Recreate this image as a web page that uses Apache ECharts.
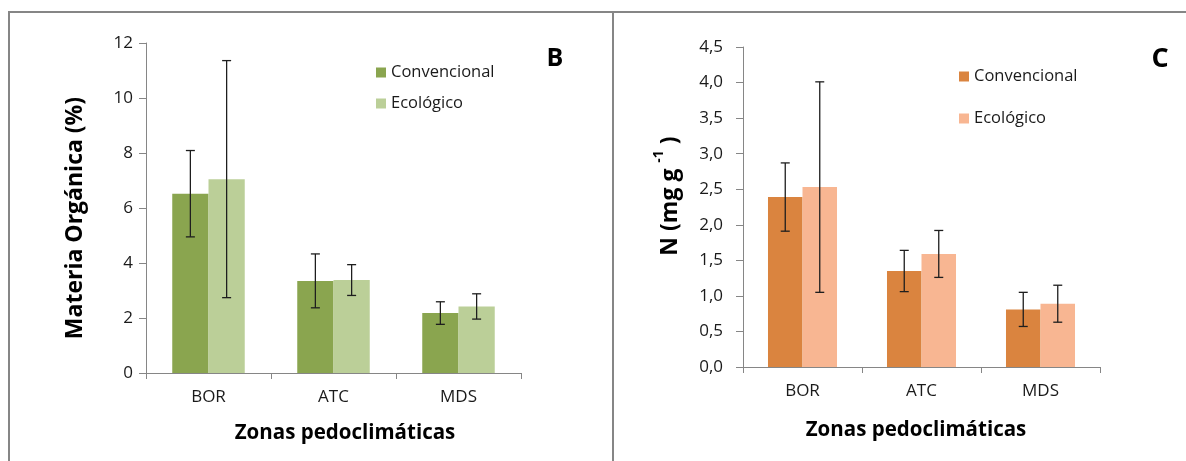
<!DOCTYPE html>
<html>
<head>
<meta charset="utf-8">
<script src="https://cdn.jsdelivr.net/npm/echarts@6/dist/echarts.min.js"></script>
<style>
  html, body { margin: 0; padding: 0; background: #fff; }
  #wrap { position: relative; width: 1186px; height: 461px; overflow: hidden; background: #fff; }
  #left { position: absolute; left: 0; top: 0; width: 613px; height: 461px; }
  #right { position: absolute; left: 613px; top: 0; width: 573px; height: 461px; }
  .ln { position: absolute; background: #868686; }
</style>
</head>
<body>
<div id="wrap">
  <div id="left"></div>
  <div id="right"></div>
  <div class="ln" style="left:8px; top:11px; width:1178px; height:2px;"></div>
  <div class="ln" style="left:8px; top:11px; width:2px; height:450px;"></div>
  <div class="ln" style="left:612px; top:11px; width:2px; height:450px;"></div>
</div>
<script>
// ---- data ----
const categories = ['BOR', 'ATC', 'MDS'];
const seriesNames = ['Convencional', 'Ecológico'];

// Panel B: Materia Orgánica (%)
const moConvencional = [6.52, 3.35, 2.18];
const moConvencionalErr = [1.57, 0.98, 0.41];
const moEcologico = [7.05, 3.38, 2.42];
const moEcologicoErr = [4.31, 0.56, 0.46];

// Panel C: N (mg g-1)
const nConvencional = [2.39, 1.35, 0.81];
const nConvencionalErr = [0.48, 0.29, 0.24];
const nEcologico = [2.53, 1.59, 0.89];
const nEcologicoErr = [1.48, 0.33, 0.26];

const FONT = 'Open Sans';
const GAP = 0.42;

function errData(vals, errs) {
  return vals.map((v, i) => [i, v - errs[i], v + errs[i]]);
}

function errSeries(vals, errs, side) {
  return {
    type: 'custom',
    silent: true,
    z: 5,
    data: errData(vals, errs),
    encode: { x: 0, y: [1, 2] },
    renderItem: function (params, api) {
      const idx = api.value(0);
      const lo = api.coord([idx, api.value(1)]);
      const hi = api.coord([idx, api.value(2)]);
      const band = api.size([1, 0])[0];
      const barW = band * (1 - GAP) / 2;
      const x = lo[0] + side * barW / 2;
      const cap = 4.5;
      const st = { stroke: '#1e1e1e', lineWidth: 1.3 };
      return {
        type: 'group',
        children: [
          { type: 'line', shape: { x1: x, y1: lo[1], x2: x, y2: hi[1] }, style: st },
          { type: 'line', shape: { x1: x - cap, y1: lo[1], x2: x + cap, y2: lo[1] }, style: st },
          { type: 'line', shape: { x1: x - cap, y1: hi[1], x2: x + cap, y2: hi[1] }, style: st }
        ]
      };
    }
  };
}

function buildOption(cfg) {
  return {
    animation: false,
    backgroundColor: 'transparent',
    textStyle: { fontFamily: FONT },
    grid: { left: cfg.grid.left, top: cfg.grid.top, width: cfg.grid.width, height: cfg.grid.height },
    legend: {
      orient: 'vertical',
      left: cfg.legend.left,
      top: cfg.legend.top,
      itemWidth: 10,
      itemHeight: 10,
      itemGap: cfg.legend.gap,
      icon: 'rect',
      data: seriesNames,
      textStyle: { fontFamily: FONT, fontSize: 16.5, color: '#1a1a1a', lineHeight: 16 }
    },
    xAxis: {
      type: 'category',
      data: categories,
      axisLine: { lineStyle: { color: '#868686', width: 1 } },
      axisTick: { show: true, alignWithLabel: false, length: 6, lineStyle: { color: '#868686' } },
      axisLabel: { fontFamily: FONT, fontSize: 17, color: '#1a1a1a', margin: 16 },
      splitLine: { show: false }
    },
    yAxis: {
      type: 'value',
      min: 0,
      max: cfg.yMax,
      interval: cfg.yInterval,
      axisLine: { show: true, lineStyle: { color: '#868686', width: 1 } },
      axisTick: { show: true, length: 7, lineStyle: { color: '#868686' } },
      axisLabel: { fontFamily: FONT, fontSize: cfg.tickFont, color: '#1a1a1a', margin: cfg.labelMargin, formatter: cfg.fmt },
      splitLine: { show: false }
    },
    series: [
      { name: seriesNames[0], type: 'bar', data: cfg.conv, barGap: '0%', barCategoryGap: (GAP * 100) + '%', itemStyle: { color: cfg.colors[0] } },
      { name: seriesNames[1], type: 'bar', data: cfg.eco, barGap: '0%', barCategoryGap: (GAP * 100) + '%', itemStyle: { color: cfg.colors[1] } },
      errSeries(cfg.conv, cfg.convErr, -1),
      errSeries(cfg.eco, cfg.ecoErr, 1)
    ],
    graphic: cfg.graphic
  };
}

const left = echarts.init(document.getElementById('left'), null, { renderer: 'canvas' });
left.setOption(buildOption({
  grid: { left: 146, top: 43, width: 375, height: 330 },
  legend: { left: 371, top: 59, gap: 14 },
  yMax: 12, yInterval: 2, tickFont: 17, labelMargin: 13,
  fmt: v => String(v),
  conv: moConvencional, convErr: moConvencionalErr,
  eco: moEcologico, ecoErr: moEcologicoErr,
  colors: ['#8aa54f', '#bbcf98'],
  graphic: [
    { type: 'text', x: 75, y: 218, rotation: Math.PI / 2,
      style: { text: 'Materia Orgánica (%)', fontFamily: FONT, fontSize: 23, fontWeight: 'bold', fill: '#000', align: 'center', verticalAlign: 'middle' } },
    { type: 'text', x: 345, y: 433,
      style: { text: 'Zonas pedoclimáticas', fontFamily: FONT, fontSize: 20.5, fontWeight: 'bold', fill: '#000', align: 'center', verticalAlign: 'middle' } },
    { type: 'text', x: 555, y: 59,
      style: { text: 'B', fontFamily: FONT, fontSize: 25, fontWeight: 'bold', fill: '#000', align: 'center', verticalAlign: 'middle' } }
  ]
}));

const right = echarts.init(document.getElementById('right'), null, { renderer: 'canvas' });
right.setOption(buildOption({
  grid: { left: 130, top: 47, width: 357, height: 320 },
  legend: { left: 341, top: 63, gap: 25 },
  yMax: 4.5, yInterval: 0.5, tickFont: 17, labelMargin: 20,
  fmt: v => v.toFixed(1).replace('.', ','),
  conv: nConvencional, convErr: nConvencionalErr,
  eco: nEcologico, ecoErr: nEcologicoErr,
  colors: ['#da843f', '#f8b692'],
  graphic: [
    { type: 'text', x: 54, y: 196, rotation: Math.PI / 2,
      style: { text: '{a|N (mg g }{s|-1}{a| )}', fontFamily: FONT, fill: '#000', align: 'center', verticalAlign: 'middle',
        rich: {
          a: { fontFamily: FONT, fontSize: 23, fontWeight: 'bold', fill: '#000', lineHeight: 30, verticalAlign: 'bottom' },
          s: { fontFamily: FONT, fontSize: 14, fontWeight: 'bold', fill: '#000', lineHeight: 30, verticalAlign: 'top' }
        } } },
    { type: 'text', x: 303, y: 430,
      style: { text: 'Zonas pedoclimáticas', fontFamily: FONT, fontSize: 20.5, fontWeight: 'bold', fill: '#000', align: 'center', verticalAlign: 'middle' } },
    { type: 'text', x: 547, y: 59,
      style: { text: 'C', fontFamily: FONT, fontSize: 27, fontWeight: 'bold', fill: '#000', align: 'center', verticalAlign: 'middle' } }
  ]
}));
</script>
</body>
</html>
